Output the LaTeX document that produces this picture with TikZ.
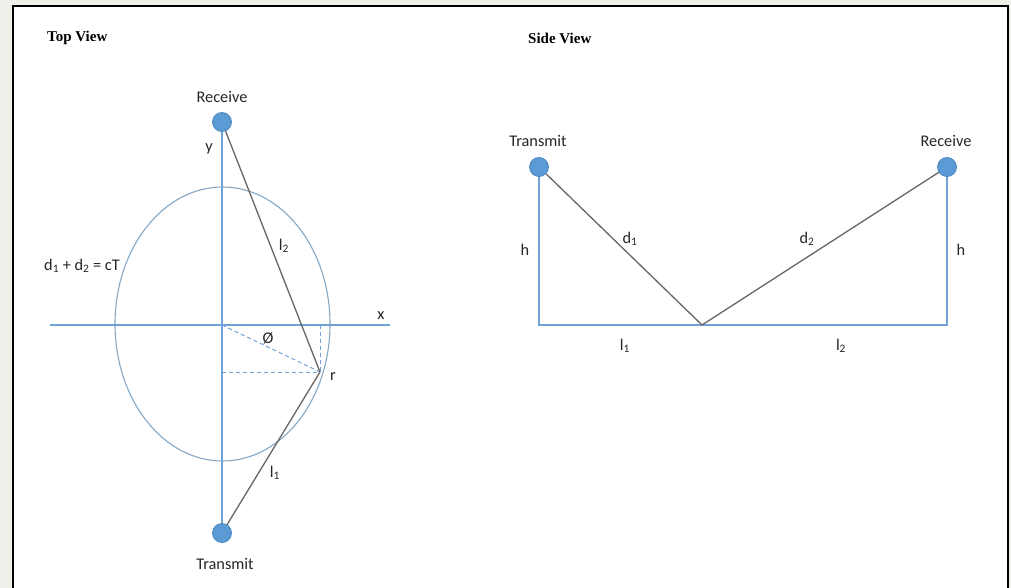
\documentclass[tikz,border=0pt]{standalone}
\usepackage{fontspec}
\setmainfont{Carlito}
\newfontfamily\titlefont{Liberation Serif}
\definecolor{bgc}{HTML}{EFEEE9}
\definecolor{dotfill}{HTML}{5B9BD5}
\definecolor{dotdraw}{HTML}{4C88C0}
\definecolor{axisc}{HTML}{6FA2D6}
\definecolor{ellc}{HTML}{85A8C6}
\definecolor{rayc}{HTML}{666666}
\definecolor{txtc}{HTML}{262626}
\begin{document}
\begin{tikzpicture}[x=1pt,y=-1pt,
  dot/.style={circle,fill=dotfill,draw=dotdraw,line width=0.8,minimum size=19,inner sep=0},
  axis/.style={draw=axisc,line width=1.15},
  ray/.style={draw=rayc,line width=1.3},
  guide/.style={draw=axisc,line width=1,dash pattern=on 4 off 3},
  lbl/.style={font=\fontsize{16.3}{19}\selectfont,text=txtc,inner sep=0},
  ttl/.style={font=\titlefont\bfseries\fontsize{15}{18}\selectfont,inner sep=0,anchor=west}]
\useasboundingbox (0,0) rectangle (1011,588);
\fill[bgc] (0,0) rectangle (1011,588);
\fill[white] (13,6) rectangle (1008,588);
\draw[black,line width=2] (13,588) -- (13,6) -- (1008,6) -- (1008,588);
% titles
\node[ttl] (tv) at (47,38) {Top View};
\node[ttl] (sv) at (528,38) {Side View};
% ---------- Top view ----------
\coordinate (o) at (222,325);
\coordinate (xl) at (50,325);
\coordinate (xr) at (390,325);
\coordinate (r) at (320,372);
\coordinate (ry) at (222,372);
\coordinate (rx) at (320,325);
\draw[ellc,line width=1.1] (222.5,324) ellipse [x radius=107.5, y radius=137];
\draw[axis] (xl) -- (xr);
\draw[guide] (o) -- (r);
\draw[guide] (ry) -- (r);
\draw[guide] (rx) -- (r);
\node[dot] (rec1) at (222,122) {};
\node[dot] (tra1) at (222,533) {};
\draw[axis] (rec1) -- (tra1);
\draw[ray] (rec1) -- (r);
\draw[ray] (tra1) -- (r);
\node[lbl] (rec1l) at (222,97) {Receive};
\node[lbl] (tra1l) at (225,564) {Transmit};
\node[lbl] (yl) at (209,149) {y};
\node[lbl] (xlab) at (381,316) {x};
\node[lbl] (l2a) at (284,246) {l\textsubscript{2}};
\node[lbl] (l1a) at (275,473) {l\textsubscript{1}};
\node[lbl] (phi) at (268,338) {Ø};
\node[lbl] (rl) at (333,377) {r};
\node[lbl] (eq) at (82,266) {d\textsubscript{1} + d\textsubscript{2} = cT};
% ---------- Side view ----------
\node[dot] (tra2) at (539,167) {};
\node[dot] (rec2) at (947,167) {};
\coordinate (bl) at (539,325);
\coordinate (br) at (947,325);
\coordinate (b) at (702,325);
\draw[axis] (tra2) -- (bl) -- (br) -- (rec2);
\draw[ray] (tra2) -- (b) -- (rec2);
\node[lbl] (tra2l) at (538,141) {Transmit};
\node[lbl] (rec2l) at (946,141) {Receive};
\node[lbl] (h1) at (525,250) {h};
\node[lbl] (h2) at (961,250) {h};
\node[lbl] (d1) at (630,239) {d\textsubscript{1}};
\node[lbl] (d2) at (807,239) {d\textsubscript{2}};
\node[lbl] (l1b) at (625,346) {l\textsubscript{1}};
\node[lbl] (l2b) at (841,346) {l\textsubscript{2}};
\end{tikzpicture}
\end{document}
